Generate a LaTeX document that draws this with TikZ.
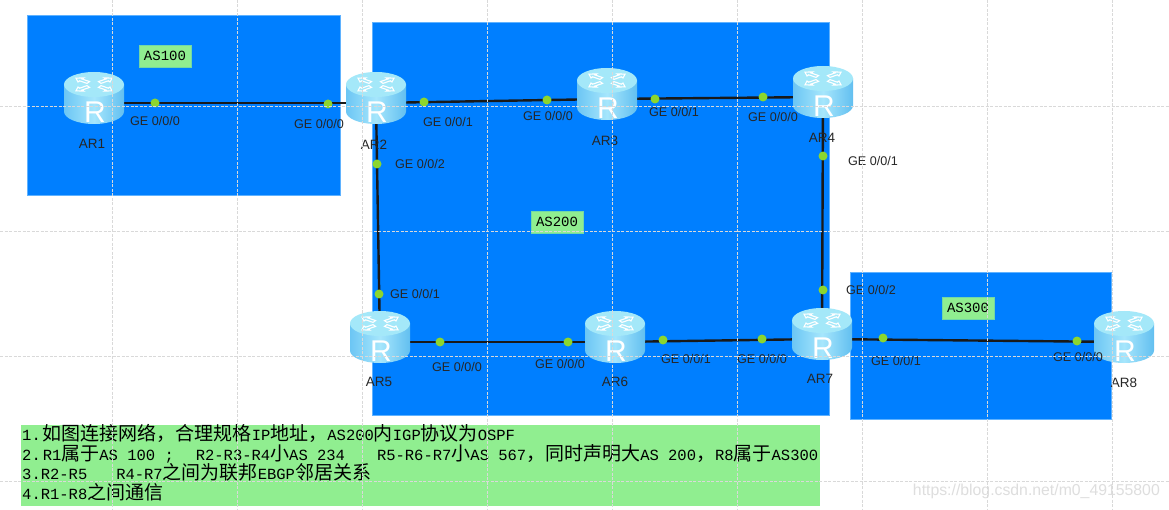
\documentclass[tikz,border=0pt]{standalone}
\usepackage{fontspec}
\setmainfont{Liberation Sans}
\newfontfamily\cjkf{Noto Sans CJK SC}
\newfontfamily\monof{Liberation Mono}
\usetikzlibrary{calc}
\definecolor{zoneblue}{HTML}{007FFF}
\definecolor{zoneedge}{HTML}{5FB2FF}
\definecolor{notegreen}{HTML}{90EE90}
\definecolor{portgreen}{HTML}{8CD62E}
\definecolor{gridgrey}{HTML}{D9D9D9}
\newcommand{\Cj}[1]{{\cjkf\fontsize{19}{20}\selectfont #1}}
\newcommand{\Sp}[1]{\hspace*{#1pt}}
\newcommand{\routerpic}[1]{%
  \begin{scope}[shift={(#1)}]
    \path[left color=routerL,right color=routerR,middle color=routerM]
      (-30,-18.5) -- (-30,8.5) arc[start angle=180,end angle=0,x radius=30,y radius=12.5] -- (30,-18.5) -- cycle;
    \path[fill=routerT] (0,-18.5) ellipse[x radius=30,y radius=12.5];
    \foreach \a in {35,145,215,325}{
      \begin{scope}[shift={(0,-18.5)},yscale=.5,rotate=\a]
        \draw[white,line width=1.1pt] (7,-2.2) -- (16,-2.2) -- (16,-5) -- (22,0) -- (16,5) -- (16,2.2) -- (7,2.2) -- cycle;
      \end{scope}}
    \node[white,font=\fontsize{30}{30}\selectfont,inner sep=0] at (1,9) {R};
  \end{scope}}
\definecolor{routerL}{HTML}{6CC6F4}
\definecolor{routerM}{HTML}{A6E6FC}
\definecolor{routerR}{HTML}{62BFF0}
\definecolor{routerT}{HTML}{A4E8F9}
\tikzset{
  zone/.style={fill=zoneblue,draw=zoneedge,line width=.7pt},
  gridline/.style={draw=gridgrey,dashed,dash pattern=on 3pt off 1.5pt,line width=.7pt},
  link/.style={draw=black!90,line width=2.4pt},
  port/.style={circle,fill=portgreen,inner sep=0,minimum size=9pt},
  lbl/.style={font=\fontsize{12.6}{14}\selectfont,inner sep=0,text=black!85},
  rname/.style={font=\fontsize{13.5}{15}\selectfont,inner sep=0,text=black!85},
  aslabel/.style={fill=notegreen,draw=notegreen!80!zoneblue,line width=.4pt,font=\monof\fontsize{14}{16}\selectfont,minimum width=52pt,minimum height=22pt,inner sep=0},
  anchorpt/.style={inner sep=0,minimum size=0pt},
}
\begin{document}
\begin{tikzpicture}[x=1pt,y=-1pt]
\useasboundingbox (0,0) rectangle (1169,510);
\fill[white] (0,0) rectangle (1169,510);
% zones
\draw[zone] (27,15) rectangle (340,195);
\draw[zone] (372,22) rectangle (829,415);
\draw[zone] (850,272) rectangle (1111,419);
% note
\node[fill=notegreen,anchor=north west,minimum width=799pt,minimum height=81pt,inner sep=0] (notebox) at (21,425) {};
% router anchors
\node[anchorpt] (AR1) at (94,103) {};
\node[anchorpt] (AR2) at (376,103) {};
\node[anchorpt] (AR3) at (607,99) {};
\node[anchorpt] (AR4) at (823,97) {};
\node[anchorpt] (AR5) at (380,342) {};
\node[anchorpt] (AR6) at (615,342) {};
\node[anchorpt] (AR7) at (822,339) {};
\node[anchorpt] (AR8) at (1124,342) {};
% ports
\coordinate (p1a) at (155,103);
\coordinate (p1b) at (328,104);
\coordinate (p2a) at (424,102);
\coordinate (p2b) at (547,100);
\coordinate (p3a) at (655,99);
\coordinate (p3b) at (763,97);
\coordinate (p4a) at (377,164);
\coordinate (p4b) at (379,294);
\coordinate (p5a) at (823,156);
\coordinate (p5b) at (823,290);
\coordinate (p6a) at (440,342);
\coordinate (p6b) at (568,342);
\coordinate (p7a) at (663,340);
\coordinate (p7b) at (762,339);
\coordinate (p8a) at (883,338);
\coordinate (p8b) at (1077,341);
% links
\draw[link] (AR1.center) -- (AR2.center);
\draw[link] (AR2.center) -- (AR3.center);
\draw[link] (AR3.center) -- (AR4.center);
\draw[link] (AR2.center) -- (AR5.center);
\draw[link] (AR4.center) -- (AR7.center);
\draw[link] (AR5.center) -- (AR6.center);
\draw[link] (AR6.center) -- (AR7.center);
\draw[link] (AR7.center) -- (AR8.center);
% port dots
\foreach \p in {p1a,p1b,p2a,p2b,p3a,p3b,p4a,p4b,p5a,p5b,p6a,p6b,p7a,p7b,p8a,p8b}
  \node[port] (dot\p) at (\p) {};
% routers
\routerpic{AR1}\routerpic{AR2}\routerpic{AR3}\routerpic{AR4}
\routerpic{AR5}\routerpic{AR6}\routerpic{AR7}\routerpic{AR8}
% router names
\node[rname] (n1) at (92,144) {AR1};
\node[rname] (n2) at (374,145) {AR2};
\node[rname] (n3) at (605,141) {AR3};
\node[rname] (n4) at (822,138) {AR4};
\node[rname] (n5) at (379,382) {AR5};
\node[rname] (n6) at (615,382) {AR6};
\node[rname] (n7) at (820,379) {AR7};
\node[rname] (n8) at (1124,383) {AR8};
% port labels
\node[lbl] (g1) at (155,121) {GE 0/0/0};
\node[lbl] (g2) at (319,124) {GE 0/0/0};
\node[lbl] (g3) at (448,122) {GE 0/0/1};
\node[lbl] (g4) at (420,164) {GE 0/0/2};
\node[lbl] (g5) at (548,116) {GE 0/0/0};
\node[lbl] (g6) at (674,112) {GE 0/0/1};
\node[lbl] (g7) at (773,117) {GE 0/0/0};
\node[lbl] (g8) at (873,161) {GE 0/0/1};
\node[lbl] (g9) at (415,294) {GE 0/0/1};
\node[lbl] (g10) at (457,367) {GE 0/0/0};
\node[lbl] (g11) at (560,364) {GE 0/0/0};
\node[lbl] (g12) at (686,359) {GE 0/0/1};
\node[lbl] (g13) at (762,359) {GE 0/0/0};
\node[lbl] (g14) at (871,290) {GE 0/0/2};
\node[lbl] (g15) at (896,361) {GE 0/0/1};
\node[lbl] (g16) at (1078,357) {GE 0/0/0};
% AS labels
\node[aslabel] (as1) at (165,56) {AS100};
\node[aslabel] (as2) at (557,222) {AS200};
\node[aslabel] (as3) at (968,308) {AS300};
% note text
\node[anchor=north west,align=left,inner sep=0,font=\monof\fontsize{15.5}{19.7}\selectfont,text=black] (notetext) at (22,424) {%
1.\Sp{2}\Cj{如图连接网络，合理规格}IP\Cj{地址，}AS200\Cj{内}IGP\Cj{协议为}OSPF\\
2.\Sp{2}R1\Cj{属于}AS 100 ;\Sp{22}R2-R3-R4\Cj{小}AS 234\Sp{32}R5-R6-R7\Cj{小}AS 567\Cj{，同时声明大}AS 200\Cj{，}R8\Cj{属于}AS300\\
3.R2-R5\Sp{29}R4-R7\Cj{之间为联邦}EBGP\Cj{邻居关系}\\
4.R1-R8\Cj{之间通信}};
% watermark
\node[anchor=east,inner sep=0,font=\fontsize{15.8}{17}\selectfont,text=black!13] (wm) at (1160,491) {https://blog.csdn.net/m0\_49155800};
% grid, over everything
\foreach \x in {112,237,362,487,612,737,862,987,1112}
  \draw[gridline] (\x,0) -- (\x,510);
\foreach \y in {106.5,231.5,356.5,481.5}
  \draw[gridline] (0,\y) -- (1169,\y);
\end{tikzpicture}
\end{document}
